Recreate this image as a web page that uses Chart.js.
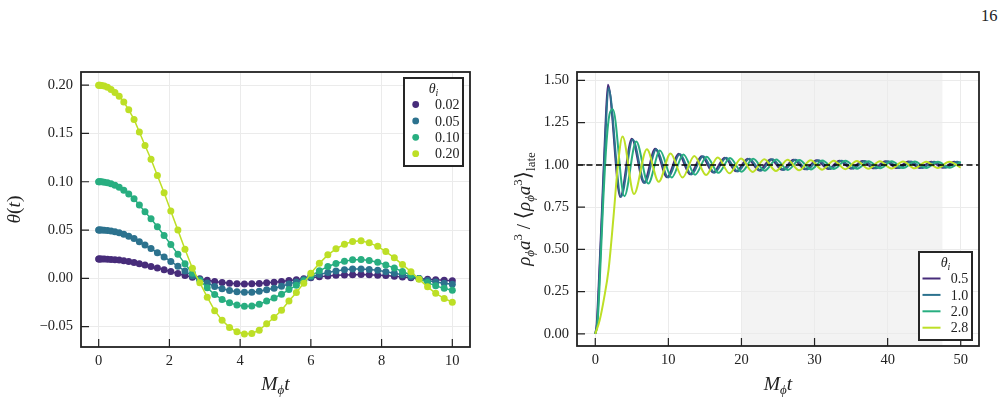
<!DOCTYPE html>
<html lang="en">
<head>
<meta charset="UTF-8">
<title>theta(t) and rho a^3</title>
<script src="https://cdn.jsdelivr.net/npm/chart.js@4.4.1/dist/chart.umd.min.js"></script>
<style>
    body { margin: 0; background: #fff; width: 1007px; height: 402px; position: relative; overflow: hidden; }
    #left { position: absolute; left: 0; top: 0; }
    #right { position: absolute; left: 500px; top: 0; }
    #page { position: absolute; left: 981px; top: 6px; font: 16.5px 'Liberation Serif', serif; color: #222; }
</style>
</head>
<body>
<div id="page">16</div>
<canvas id="left" width="500" height="402"></canvas>
<canvas id="right" width="507" height="402"></canvas>
<script>
// left panel: theta(t) for four initial angles
const tLeft = [0, 0.01, 0.04, 0.09, 0.16, 0.25, 0.35, 0.46, 0.58, 0.71, 0.85, 1.0, 1.15, 1.31, 1.48, 1.66, 1.85, 2.04, 2.24, 2.44,
    2.65, 2.86, 3.07, 3.28, 3.49, 3.7, 3.91, 4.12, 4.33, 4.54, 4.75, 4.96, 5.17, 5.38, 5.59, 5.8, 6.0, 6.24, 6.48, 6.71,
    6.95, 7.18, 7.42, 7.65, 7.89, 8.12, 8.36, 8.59, 8.83, 9.06, 9.3, 9.53, 9.77, 10];
const theta020 = [0.2, 0.2, 0.2, 0.1997, 0.199, 0.1978, 0.1955, 0.1925, 0.1885, 0.1825, 0.1745, 0.1645, 0.1515, 0.1375, 0.1232, 0.1065, 0.0885, 0.0698, 0.0499, 0.030,
    0.0105, -0.0045, -0.0195, -0.0335, -0.0435, -0.0508, -0.0553, -0.0577, -0.0571, -0.0537, -0.047, -0.0406, -0.033, -0.0234, -0.0146, -0.005, 0.0052, 0.0155, 0.0243, 0.0305,
    0.0354, 0.0382, 0.0388, 0.0367, 0.0331, 0.0277, 0.0212, 0.0142, 0.0069, -0.001, -0.0088, -0.0155, -0.0208, -0.0248];
const theta010 = [0.1, 0.1, 0.1, 0.0999, 0.0995, 0.0989, 0.0978, 0.0963, 0.0943, 0.0913, 0.0873, 0.0823, 0.0758, 0.0688, 0.0616, 0.0533, 0.0443, 0.0349, 0.025, 0.015,
    0.0053, -0.0023, -0.0098, -0.0168, -0.0218, -0.0254, -0.0277, -0.0289, -0.0286, -0.0269, -0.0235, -0.0203, -0.0165, -0.0117, -0.0073, -0.0025, 0.0026, 0.0078, 0.0122, 0.0153,
    0.0177, 0.0191, 0.0194, 0.0184, 0.0166, 0.0139, 0.0106, 0.0071, 0.0035, -0.0005, -0.0044, -0.0078, -0.0104, -0.0124];
const theta005 = [0.05, 0.05, 0.05, 0.0499, 0.0498, 0.0495, 0.0489, 0.0481, 0.0471, 0.0456, 0.0436, 0.0411, 0.0379, 0.0344, 0.0308, 0.0266, 0.0221, 0.0175, 0.0125, 0.0075,
    0.0026, -0.0011, -0.0049, -0.0084, -0.0109, -0.0127, -0.0138, -0.0144, -0.0143, -0.0134, -0.0118, -0.0102, -0.0083, -0.0059, -0.0037, -0.0013, 0.0013, 0.0039, 0.0061, 0.0076,
    0.0089, 0.0096, 0.0097, 0.0092, 0.0083, 0.0069, 0.0053, 0.0036, 0.0017, -0.0003, -0.0022, -0.0039, -0.0052, -0.0062];
const theta002 = [0.02, 0.02, 0.02, 0.02, 0.0199, 0.0198, 0.0196, 0.0193, 0.0189, 0.0183, 0.0175, 0.0165, 0.0152, 0.0138, 0.0123, 0.0107, 0.0089, 0.007, 0.005, 0.003,
    0.0011, -0.0005, -0.002, -0.0034, -0.0044, -0.0051, -0.0055, -0.0058, -0.0057, -0.0054, -0.0047, -0.0041, -0.0033, -0.0023, -0.0015, -0.0005, 0.0005, 0.0016, 0.0024, 0.0031,
    0.0035, 0.0038, 0.0039, 0.0037, 0.0033, 0.0028, 0.0021, 0.0014, 0.0007, -0.0001, -0.0009, -0.0016, -0.0021, -0.0025];
const leftLabels = ['0.02', '0.05', '0.10', '0.20'];
const leftXTicks = [0, 2, 4, 6, 8, 10];
const leftYTicks = [-0.05, 0, 0.05, 0.10, 0.15, 0.20];

// right panel: rho a^3 normalised to its late-time mean (turning points of each curve)
const tR05 = [0, 0.2, 0.46, 0.91, 1.37, 1.73, 3.42, 5.0, 6.65, 8.2, 9.82, 11.4, 12.98, 14.56, 16.13, 17.71, 19.28, 20.86, 22.43, 24.0,
    25.57, 27.14, 28.71, 30.28, 31.85, 33.42, 34.99, 36.56, 38.13, 39.7, 41.27, 42.84, 44.41, 45.98, 47.55, 49.12, 50];
const rho05 = [0, 0.06, 0.28, 0.73, 1.21, 1.474, 0.81, 1.155, 0.895, 1.095, 0.927, 1.066, 0.944, 1.052, 0.955, 1.043, 0.962, 1.037, 0.967, 1.033,
    0.971, 1.03, 0.974, 1.027, 0.976, 1.025, 0.978, 1.023, 0.98, 1.021, 0.981, 1.02, 0.982, 1.019, 0.983, 1.018, 1.0];
const tR10 = [0, 0.25, 0.5, 0.95, 1.42, 1.8, 3.52, 5.12, 6.78, 8.35, 9.98, 11.57, 13.16, 14.75, 16.33, 17.91, 19.49, 21.07, 22.65, 24.23,
    25.81, 27.39, 28.97, 30.55, 32.13, 33.71, 35.29, 36.87, 38.45, 40.03, 41.61, 43.19, 44.77, 46.35, 47.93, 49.51, 50];
const rho10 = [0, 0.06, 0.27, 0.72, 1.2, 1.455, 0.812, 1.15, 0.893, 1.092, 0.926, 1.065, 0.943, 1.051, 0.954, 1.043, 0.961, 1.037, 0.966, 1.033,
    0.97, 1.03, 0.973, 1.027, 0.976, 1.025, 0.978, 1.023, 0.98, 1.021, 0.981, 1.02, 0.982, 1.019, 0.983, 1.018, 1.012];
const tR20 = [0, 0.3, 0.6, 1.05, 1.55, 1.95, 2.4, 3.98, 5.6, 7.25, 8.85, 10.46, 12.06, 13.66, 15.25, 16.84, 18.43, 20.02, 21.6, 23.18,
    24.76, 26.34, 27.92, 29.5, 31.08, 32.66, 34.24, 35.82, 37.4, 38.98, 40.56, 42.14, 43.72, 45.3, 46.88, 48.46, 50];
const rho20 = [0, 0.06, 0.3, 0.75, 1.14, 1.3, 1.33, 0.815, 1.139, 0.89, 1.085, 0.925, 1.062, 0.942, 1.049, 0.953, 1.041, 0.96, 1.036, 0.966,
    1.032, 0.97, 1.029, 0.973, 1.026, 0.976, 1.024, 0.978, 1.022, 0.98, 1.021, 0.981, 1.02, 0.982, 1.019, 0.983, 1.018];
const tR28 = [0, 0.6, 1.2, 1.82, 2.5, 3.1, 3.73, 5.3, 7.06, 8.68, 10.3, 11.94, 13.55, 15.16, 16.76, 18.36, 19.95, 21.54, 23.13, 24.72,
    26.31, 27.89, 29.47, 31.05, 32.63, 34.21, 35.79, 37.37, 38.95, 40.53, 42.11, 43.69, 45.27, 46.85, 48.43, 50];
const rho28 = [0, 0.08, 0.21, 0.38, 0.695, 1.0, 1.168, 0.828, 1.092, 0.9, 1.068, 0.925, 1.053, 0.94, 1.044, 0.95, 1.038, 0.958, 1.034, 0.964,
    1.03, 0.968, 1.027, 0.972, 1.025, 0.975, 1.023, 0.977, 1.021, 0.979, 1.02, 0.98, 1.019, 0.982, 1.018, 0.984];
const rightLabels = ['0.5', '1.0', '2.0', '2.8'];
const rightXTicks = [0, 10, 20, 30, 40, 50];
const rightYTicks = [0, 0.25, 0.5, 0.75, 1.0, 1.25, 1.5];
const lateWindow = [20, 47.5];
const lateMean = 1.0;

const palette = ['#472c7a', '#2c728e', '#28ae80', '#bddf26'];
const ink = '#222222';
const serif = "'Liberation Serif', 'DejaVu Serif', serif";

Chart.defaults.font.family = serif;
Chart.defaults.font.size = 14.5;
Chart.defaults.color = ink;

const fmt = v => (v < 0 ? '\u2212' : '') + Math.abs(v).toFixed(2);

function rich(ctx, parts, x, y, angle) {
    ctx.save();
    ctx.translate(x, y);
    ctx.rotate(angle);
    ctx.textAlign = 'left';
    ctx.textBaseline = 'alphabetic';
    ctx.fillStyle = ink;
    const fontOf = p => (p[2] || 'normal') + ' ' + p[1] + 'px ' + serif;
    let total = 0;
    const widths = parts.map(p => {
        ctx.font = fontOf(p);
        const w = ctx.measureText(p[0]).width;
        total += w;
        return w;
    });
    let cx = -total / 2;
    parts.forEach((p, i) => {
        ctx.font = fontOf(p);
        ctx.fillText(p[0], cx, p[3] || 0);
        cx += widths[i];
    });
    ctx.restore();
}

function legendBox(chart, lg) {
    const { ctx, chartArea: a } = chart;
    const w = lg.w, h = 88;
    const left = a.right - 7 - w;
    const top = lg.at === 'top' ? a.top + 6 : a.bottom - 6 - h;
    ctx.fillStyle = '#fff';
    ctx.fillRect(left, top, w, h);
    ctx.strokeStyle = '#262626';
    ctx.lineWidth = 2;
    ctx.strokeRect(left, top, w, h);
    rich(ctx, [['θ', 14, 'italic'], ['i', 10, 'italic', 3]], left + w / 2, top + 14.5, 0);
    ctx.font = '14px ' + serif;
    ctx.textBaseline = 'middle';
    ctx.textAlign = 'left';
    lg.labels.forEach((lab, i) => {
        const ry = top + 26.5 + 16.4 * i;
        ctx.fillStyle = palette[i];
        ctx.strokeStyle = palette[i];
        if (lg.marker === 'dot') {
            ctx.beginPath();
            ctx.arc(left + 11.7, ry, 3.4, 0, 2 * Math.PI);
            ctx.fill();
        } else {
            ctx.lineWidth = 2;
            ctx.beginPath();
            ctx.moveTo(left + 3.5, ry);
            ctx.lineTo(left + 21.5, ry);
            ctx.stroke();
        }
        ctx.fillStyle = ink;
        ctx.fillText(lab, left + lg.textX, ry + 1);
    });
}

function decor(cfg) {
    return {
        id: 'decor',
        beforeDraw(chart) {
            if (!cfg.band) return;
            const { ctx, chartArea: a, scales: { x } } = chart;
            const x0 = x.getPixelForValue(cfg.band[0]), x1 = x.getPixelForValue(cfg.band[1]);
            ctx.save();
            ctx.fillStyle = '#f3f3f3';
            ctx.fillRect(x0, a.top, x1 - x0, a.bottom - a.top);
            ctx.restore();
        },
        afterDatasetsDraw(chart) {
            if (cfg.refLine === undefined) return;
            const { ctx, chartArea: a, scales: { y } } = chart;
            const py = y.getPixelForValue(cfg.refLine);
            ctx.save();
            ctx.strokeStyle = '#000';
            ctx.lineWidth = 1.5;
            ctx.setLineDash([6, 3.5]);
            ctx.beginPath();
            ctx.moveTo(a.left, py);
            ctx.lineTo(a.right, py);
            ctx.stroke();
            ctx.restore();
        },
        afterDraw(chart) {
            const { ctx, chartArea: a, scales: { x, y } } = chart;
            ctx.save();
            // inward ticks
            ctx.strokeStyle = ink;
            ctx.lineWidth = 1.2;
            ctx.beginPath();
            x.ticks.forEach(t => {
                const px = x.getPixelForValue(t.value);
                ctx.moveTo(px, a.bottom);
                ctx.lineTo(px, a.bottom - 8);
            });
            y.ticks.forEach(t => {
                const py = y.getPixelForValue(t.value);
                ctx.moveTo(a.left, py);
                ctx.lineTo(a.left + 8, py);
            });
            ctx.stroke();
            ctx.lineWidth = 1.8;
            ctx.strokeRect(a.left, a.top, a.right - a.left, a.bottom - a.top);
            rich(ctx, cfg.xTitle, (a.left + a.right) / 2, 390, 0);
            rich(ctx, cfg.yTitle, cfg.yTitleX, (a.top + a.bottom) / 2, -Math.PI / 2);
            legendBox(chart, cfg.legend);
            ctx.restore();
        }
    };
}

function fmtFor(isX, tickValues) {
    const intTicks = tickValues.every(v => Number.isInteger(v));
    if (isX && intTicks) return v => String(v);
    return fmt;
}

function axis(min, max, tickValues, fitSize, isX) {
    return {
        type: 'linear',
        min: min,
        max: max,
        afterBuildTicks: s => { s.ticks = tickValues.map(v => ({ value: v })); },
        afterFit: s => { if (isX) s.height = fitSize; else s.width = fitSize; },
        grid: { color: '#ebebeb', lineWidth: 1, drawTicks: false },
        border: { display: false },
        ticks: { padding: isX ? 5 : 8, callback: fmtFor(isX, tickValues), maxRotation: 0, autoSkip: false }
    };
}

const xTitle = [['M', 19.5, 'italic'], ['ϕ', 13, 'italic', 4], ['t', 19.5, 'italic']];

const leftSets = [theta002, theta005, theta010, theta020].map((ys, i) => ({
    label: leftLabels[i],
    data: ys.map((v, k) => ({ x: tLeft[k], y: v })),
    borderColor: palette[i],
    backgroundColor: palette[i],
    borderWidth: 1.5,
    pointRadius: 3.5,
    pointBorderWidth: 0,
    pointBackgroundColor: palette[i],
    tension: 0,
    order: 3 - i
}));

new Chart(document.getElementById('left'), {
    type: 'line',
    data: { datasets: leftSets },
    options: {
        responsive: false,
        animation: false,
        layout: { padding: { top: 72, right: 30, left: 0, bottom: 0 } },
        plugins: { legend: { display: false }, tooltip: { enabled: false } },
        scales: {
            x: axis(-0.5, 10.5, leftXTicks, 55, true),
            y: axis(-0.0711, 0.2136, leftYTicks, 81, false)
        }
    },
    plugins: [decor({
        xTitle: xTitle,
        yTitle: [['θ', 19.5, 'italic'], ['(', 19.5], ['t', 19.5, 'italic'], [')', 19.5]],
        yTitleX: 20,
        legend: { labels: leftLabels, at: 'top', marker: 'dot', w: 59, textX: 31 }
    })]
});

const rightPairs = [[tR05, rho05], [tR10, rho10], [tR20, rho20], [tR28, rho28]];
const rightSets = rightPairs.map(([ts, rs], i) => ({
    label: rightLabels[i],
    data: rs.map((v, k) => ({ x: ts[k], y: v })),
    borderColor: palette[i],
    borderWidth: 2,
    pointRadius: 0,
    cubicInterpolationMode: 'monotone',
    order: 3 - i
}));

new Chart(document.getElementById('right'), {
    type: 'line',
    data: { datasets: rightSets },
    options: {
        responsive: false,
        animation: false,
        layout: { padding: { top: 72, right: 28, left: 0, bottom: 0 } },
        plugins: { legend: { display: false }, tooltip: { enabled: false } },
        scales: {
            x: axis(-2.5, 52.5, rightXTicks, 56, true),
            y: axis(-0.072, 1.55, rightYTicks, 77, false)
        }
    },
    plugins: [decor({
        band: lateWindow,
        refLine: lateMean,
        xTitle: xTitle,
        yTitle: [['ρ', 19, 'italic'], ['ϕ', 13, 'italic', 4], ['a', 19, 'italic'], ['3', 13, 'normal', -8],
            [' / ', 19], ['⟨', 21], ['ρ', 19, 'italic'], ['ϕ', 13, 'italic', 4], ['a', 19, 'italic'], ['3', 13, 'normal', -8],
            ['⟩', 21], ['late', 13, 'normal', 5]],
        yTitleX: 30,
        legend: { labels: rightLabels, at: 'bottom', marker: 'line', w: 53, textX: 31.7 }
    })]
});
</script>
</body>
</html>
